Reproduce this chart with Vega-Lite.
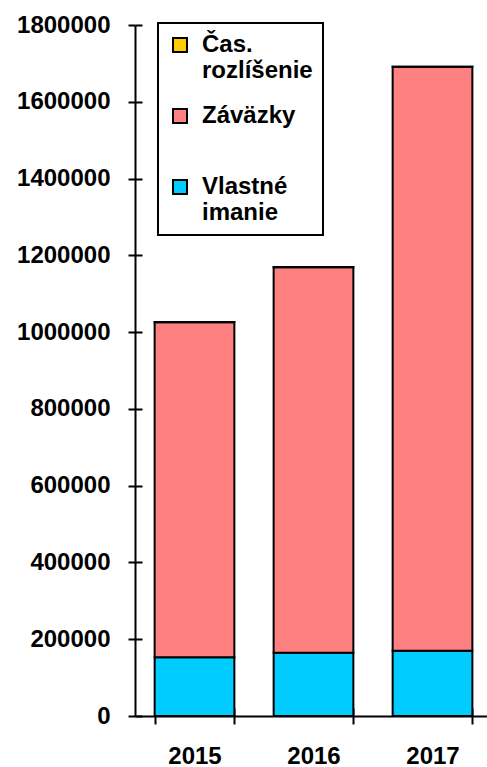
{
  "$schema": "https://vega.github.io/schema/vega-lite/v6.json",
  "autosize": "none",
  "width": 357,
  "height": 691,
  "padding": {"left": 135, "top": 25, "right": 0, "bottom": 51},
  "background": "white",
  "config": {
    "font": "Liberation Sans",
    "view": {"stroke": null},
    "axis": {
      "grid": false,
      "domainColor": "black",
      "domainWidth": 2,
      "tickColor": "black",
      "tickWidth": 2,
      "labelFont": "Liberation Sans",
      "labelFontSize": 24,
      "labelFontWeight": "bold",
      "labelColor": "black"
    },
    "legend": {"strokeWidth": 2}
  },
  "data": {
    "values": [
      {"rok": "2015", "polozka": "Vlastné imanie", "hodnota": 153000, "poradie": 1},
      {"rok": "2015", "polozka": "Záväzky", "hodnota": 873000, "poradie": 2},
      {"rok": "2015", "polozka": "Čas. rozlíšenie", "hodnota": 400, "poradie": 3},
      {"rok": "2016", "polozka": "Vlastné imanie", "hodnota": 165000, "poradie": 1},
      {"rok": "2016", "polozka": "Záväzky", "hodnota": 1004000, "poradie": 2},
      {"rok": "2016", "polozka": "Čas. rozlíšenie", "hodnota": 400, "poradie": 3},
      {"rok": "2017", "polozka": "Vlastné imanie", "hodnota": 170000, "poradie": 1},
      {"rok": "2017", "polozka": "Záväzky", "hodnota": 1521000, "poradie": 2},
      {"rok": "2017", "polozka": "Čas. rozlíšenie", "hodnota": 400, "poradie": 3}
    ]
  },
  "layer": [
    {
      "mark": {"type": "bar", "stroke": "black", "strokeWidth": 2},
      "encoding": {
        "x": {
          "field": "rok", "type": "nominal",
          "scale": {"paddingInner": 0.33, "paddingOuter": 0.165},
          "axis": {"orient": "bottom", "title": null, "labelAngle": 0, "tickBand": "extent", "tickSize": 8, "labelPadding": 20}
        },
        "y": {
          "field": "hodnota", "type": "quantitative", "stack": "zero",
          "scale": {"domain": [0, 1800000], "nice": false},
          "axis": {"orient": "left", "title": null, "format": "d", "tickSize": 7, "labelPadding": 18,
                   "values": [0, 200000, 400000, 600000, 800000, 1000000, 1200000, 1400000, 1600000, 1800000]}
        },
        "color": {
          "field": "polozka", "type": "nominal",
          "scale": {"domain": ["Čas. rozlíšenie", "Záväzky", "Vlastné imanie"], "range": ["#FFCC00", "#FF8080", "#00CCFF"]},
          "legend": {
            "title": null, "orient": "none", "legendX": 23, "legendY": -2,
            "strokeColor": "black", "padding": 10,
            "symbolType": "square", "symbolSize": 196, "symbolStrokeColor": "black", "symbolStrokeWidth": 2,
            "labelOffset": 10, "rowPadding": 21,
            "labelFont": "Liberation Sans", "labelFontSize": 24, "labelFontWeight": "bold", "labelColor": "black", "labelLimit": 300,
            "labelExpr": "datum.label == 'Čas. rozlíšenie' ? ['Čas.', 'rozlíšenie'] : datum.label == 'Záväzky' ? ['Záväzky', ' '] : ['Vlastné', 'imanie']"
          }
        },
        "order": {"field": "poradie", "type": "quantitative"}
      }
    },
    {
      "mark": {"type": "bar", "opacity": 0},
      "encoding": {
        "x": {
          "field": "rok", "type": "nominal",
          "axis": {"orient": "bottom", "title": null, "labels": false, "domain": false, "tickBand": "extent", "tickSize": -8}
        },
        "y": {
          "field": "hodnota", "type": "quantitative",
          "axis": {"orient": "left", "title": null, "labels": false, "domain": false, "tickSize": -7,
                   "values": [0, 200000, 400000, 600000, 800000, 1000000, 1200000, 1400000, 1600000, 1800000]}
        }
      }
    }
  ],
  "resolve": {"axis": {"x": "independent", "y": "independent"}}
}
